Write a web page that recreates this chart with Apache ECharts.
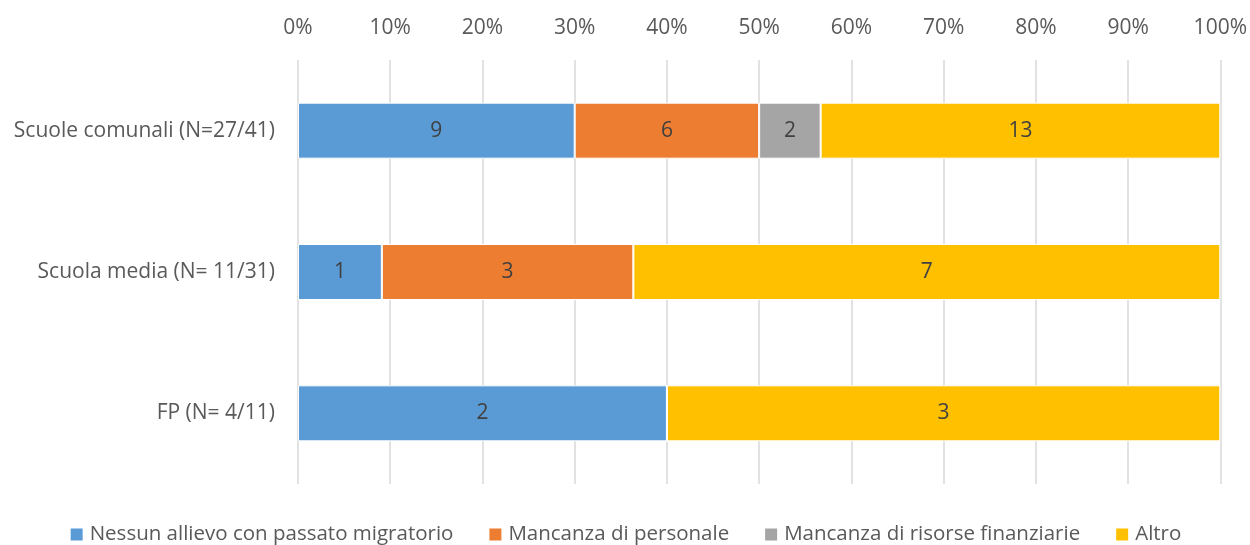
<!DOCTYPE html>
<html>
<head>
<meta charset="utf-8">
<script src="https://cdn.jsdelivr.net/npm/echarts@6/dist/echarts.min.js"></script>
<style>
  html, body { margin: 0; padding: 0; background: #fff; }
  #chart { width: 1250px; height: 545px; }
</style>
</head>
<body>
<div id="chart"></div>
<script>
// categories, top to bottom
const categories = ["Scuole comunali (N=27/41)", "Scuola media (N= 11/31)", "FP (N= 4/11)"];
const seriesNames = ["Nessun allievo con passato migratorio", "Mancanza di personale", "Mancanza di risorse finanziarie", "Altro"];
// counts per series, one per category
const nessun = [9, 1, 2];
const personale = [6, 3, 0];
const risorse = [2, 0, 0];
const altro = [13, 7, 3];
const colors = ["#5B9BD5", "#ED7D31", "#A5A5A5", "#FFC000"];

const counts = [nessun, personale, risorse, altro];
const totals = categories.map((_, i) => counts.reduce((s, arr) => s + arr[i], 0));

const chart = echarts.init(document.getElementById("chart"));
const font = "'Open Sans', 'Noto Sans', sans-serif";

chart.setOption({
  animation: false,
  textStyle: { fontFamily: font },
  grid: { left: 298, right: 27, top: 60, bottom: 61, containLabel: false },
  legend: {
    top: 524,
    left: "center",
    padding: 0,
    itemWidth: 14,
    itemHeight: 14,
    itemGap: 34,
    icon: "rect",
    textStyle: { fontSize: 20.5, color: "#595959", fontFamily: font, padding: [0, 0, 0, 1] },
    data: seriesNames
  },
  xAxis: {
    type: "value",
    position: "top",
    min: 0,
    max: 100,
    interval: 10,
    axisLine: { show: false },
    axisTick: { show: false },
    axisLabel: { formatter: "{value}%", fontSize: 21, color: "#595959", margin: 21 },
    splitLine: { lineStyle: { color: "#D9D9D9", width: 1.5 } }
  },
  yAxis: {
    type: "category",
    inverse: true,
    data: categories,
    axisLine: { show: false },
    axisTick: { show: false },
    axisLabel: { fontSize: 21, color: "#595959", margin: 23 }
  },
  series: seriesNames.map((name, k) => ({
    name: name,
    type: "bar",
    stack: "total",
    barWidth: 56,
    itemStyle: { color: colors[k], borderColor: "#fff", borderWidth: 1 },
    label: {
      show: true,
      position: "inside",
      fontSize: 21,
      color: "#404040",
      formatter: p => counts[k][p.dataIndex] ? String(counts[k][p.dataIndex]) : ""
    },
    data: counts[k].map((c, i) => c / totals[i] * 100)
  }))
});
</script>
</body>
</html>
